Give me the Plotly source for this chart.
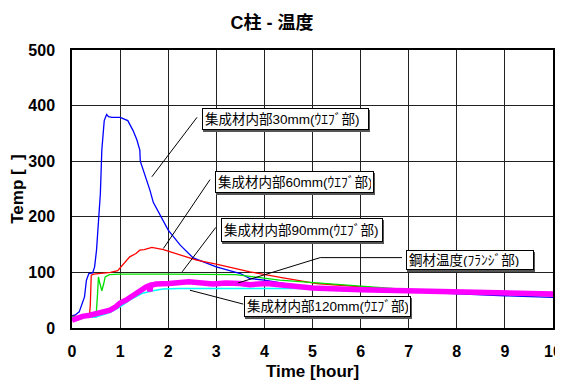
import plotly.graph_objects as go

# ---- data (time in hours, temperature) ----
t_30 = [0, 0.06, 0.15, 0.22, 0.26, 0.30, 0.35, 0.43, 0.47, 0.51, 0.56, 0.59, 0.62, 0.67, 0.72, 0.76,
        0.83, 1.0, 1.16, 1.27, 1.35, 1.41, 1.42, 1.5, 1.62, 1.69, 1.83, 2.0, 2.25, 2.52, 3.0, 3.5,
        3.7, 4.0, 4.5, 5.0, 6.0, 7.0, 8.0, 9.0, 10.0]
v_30 = [22, 23, 29, 45, 56, 86, 98, 99, 110, 140, 200, 242, 320, 373, 384, 380,
        379, 379, 373, 355, 338, 320, 300, 280, 248, 226, 203, 176, 149, 126, 110, 98,
        89, 86, 79, 74, 69, 65, 61, 58, 55]

t_60 = [0, 0.36, 0.38, 0.40, 0.45, 0.6, 0.8, 0.95, 1.05, 1.16, 1.2, 1.33, 1.41, 1.5, 1.66, 1.9,
        2.25, 2.59, 3.0, 3.49, 3.7, 4.39, 5.09, 6.0, 7.0, 8.0, 9.0, 10.0]
v_60 = [21, 21, 40, 95, 97, 98, 100, 103, 113, 125, 128, 134, 140, 141, 145, 141,
        131, 122, 115, 105, 101, 90, 80, 74, 68, 64, 61, 58]

t_90 = [0, 0.50, 0.53, 0.55, 0.58, 0.62, 0.66, 0.69, 0.78, 1.0, 2.0, 3.0, 3.4, 3.7, 4.32, 5.09,
        6.0, 7.0, 8.0, 9.0, 10.0]
v_90 = [20, 20, 60, 92, 80, 67, 80, 92, 96, 97, 97, 97, 96, 93, 86, 81,
        75, 69, 65, 62, 60]

t_120 = [0, 0.5, 0.8, 1.0, 1.2, 1.45, 1.68, 1.89, 2.23, 2.45, 3.0, 4.0, 5.0, 6.0, 7.0, 8.0, 9.0, 10.0]
v_120 = [19, 20, 28, 38, 50, 62, 67, 70, 71, 71, 71, 72, 71, 69, 67, 66, 64, 63]

t_steel = [0, 0.08, 0.22, 0.37, 0.57, 0.79, 0.91, 1.0, 1.12, 1.27, 1.33, 1.48, 1.54, 1.6, 1.62, 1.64,
           1.75, 2.02, 2.43, 2.93, 3.2, 3.49, 3.7, 4.05, 4.5, 5.0, 6.0, 7.0, 7.86, 9.0, 10.0]
v_steel = [14, 17, 21, 23, 27, 32, 38, 45, 50, 59, 63, 72, 74, 76, 66, 77,
           79, 80, 83, 79, 81, 80, 78, 80, 76, 72, 69, 67, 65, 63, 61]

x_ticks = [0, 1, 2, 3, 4, 5, 6, 7, 8, 9, 10]
y_ticks = [0, 100, 200, 300, 400, 500]

labels = ["集成材内部30mm(ｳｴﾌﾞ部)", "集成材内部60mm(ｳｴﾌﾞ部)", "集成材内部90mm(ｳｴﾌﾞ部)",
          "鋼材温度(ﾌﾗﾝｼﾞ部)", "集成材内部120mm(ｳｴﾌﾞ部)"]

FONT = "Liberation Sans, Arial, Noto Sans CJK JP, sans-serif"

fig = go.Figure()
fig.add_trace(go.Scatter(x=t_30, y=v_30, mode="lines", line=dict(color="#0000ff", width=1.3), name=labels[0]))
fig.add_trace(go.Scatter(x=t_60, y=v_60, mode="lines", line=dict(color="#ff0000", width=1.3), name=labels[1]))
fig.add_trace(go.Scatter(x=t_90, y=v_90, mode="lines", line=dict(color="#00e000", width=1.3), name=labels[2]))
fig.add_trace(go.Scatter(x=t_120, y=v_120, mode="lines", line=dict(color="#00ffff", width=1.5), name=labels[4]))
fig.add_trace(go.Scatter(x=t_steel, y=v_steel, mode="lines", line=dict(color="#ff00ff", width=5.5), name=labels[3]))

# leader lines (data coords)
leaders = [
    [(2.60, 379), (1.66, 272)],
    [(2.87, 267), (1.90, 143)],
    [(2.99, 181), (2.29, 101)],
    [(6.86, 126.6), (5.16, 126.6), (3.45, 81)],
    [(3.56, 43), (2.45, 68)],
]
for pts in leaders:
    for (x0, y0), (x1, y1) in zip(pts[:-1], pts[1:]):
        fig.add_shape(type="line", x0=x0, y0=y0, x1=x1, y1=y1, xref="x", yref="y",
                      line=dict(color="black", width=1))

# label boxes: (x_left, y_top, width_px, height_px)
boxes = [
    (2.70, 395, 167, 22),
    (2.97, 282, 159, 22),
    (3.10, 197.5, 162, 24),
    (6.94, 140, 128, 20),
    (3.58, 57.5, 167, 21),
]
for i, (bx, by, bw, bh) in enumerate(boxes):
    # drop shadow
    fig.add_annotation(x=bx, y=by, xref="x", yref="y", xanchor="left", yanchor="top",
                       text="", showarrow=False, xshift=1, yshift=-2,
                       bgcolor="#555", bordercolor="#555", borderwidth=1, borderpad=2,
                       width=bw - 6, height=bh - 6)
    fig.add_annotation(x=bx, y=by, xref="x", yref="y", xanchor="left", yanchor="top",
                       text=labels[i], showarrow=False, align="left", valign="middle",
                       font=dict(family=FONT, size=13.5, color="black"),
                       bgcolor="white", bordercolor="black", borderwidth=1, borderpad=2,
                       width=bw - 6, height=bh - 6)

# page body has an 8px margin; figure offset accordingly
W, H = 563, 374
fig.update_layout(
    width=W, height=H,
    margin=dict(l=64, r=18, t=41.5, b=54, autoexpand=False),
    paper_bgcolor="white", plot_bgcolor="white",
    showlegend=False,
    title=dict(text="<b>C柱 - 温度</b>", x=264 / W, xanchor="center", y=1 - 15 / H, yanchor="middle",
               font=dict(family=FONT, size=18, color="black")),
    font=dict(family=FONT, color="black"),
)
fig.update_xaxes(range=[0, 10], tickvals=x_ticks, ticktext=[f"<b>{v}</b>" for v in x_ticks],
                 tickfont=dict(size=16, family=FONT), ticks="", ticklabelstandoff=8,
                 showgrid=True, gridcolor="#222", gridwidth=1, zeroline=False, automargin=False,
                 showline=True, linecolor="black", linewidth=1.5, mirror=True,
                 title=dict(text="<b>Time [hour]</b>", font=dict(size=17, family=FONT), standoff=6))
fig.update_yaxes(range=[0, 500], tickvals=y_ticks, ticktext=[f"<b>{v}</b>" for v in y_ticks],
                 tickfont=dict(size=16, family=FONT), ticks="", ticklabelstandoff=12,
                 showgrid=True, gridcolor="#222", gridwidth=1, zeroline=False, automargin=False,
                 showline=True, linecolor="black", linewidth=1.5, mirror=True,
                 title=dict(text="<b>Temp [\u00a0\u00a0]</b>", font=dict(size=17, family=FONT), standoff=4))

fig.write_html("out.html")
